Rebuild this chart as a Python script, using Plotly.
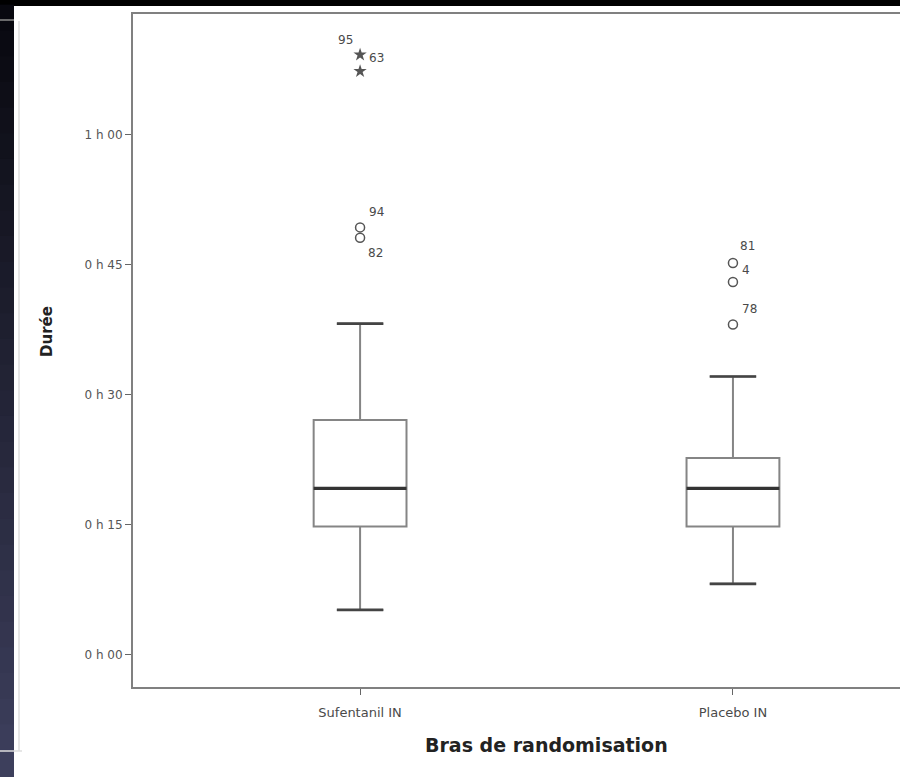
import plotly.graph_objects as go

# ---- data (minutes) ----
groups = ["Sufentanil IN", "Placebo IN"]
q1 = [14.8, 14.8]
median = [19.2, 19.2]
q3 = [27.1, 22.7]
lower_whisker = [5.2, 8.2]
upper_whisker = [38.2, 32.1]

# outliers: circles (mild) and stars (extreme)
circle_group = [0, 0, 1, 1, 1]
circle_values = [49.3, 48.1, 45.2, 43.0, 38.1]
star_group = [0, 0]
star_values = [69.2, 67.3]

# case labels: group, value, text
label_group = [0, 0, 0, 0, 1, 1, 1]
label_values = [69.2, 69.2, 49.3, 48.1, 45.2, 45.2, 38.1]
label_texts = ["95", "63", "94", "82", "81", "4", "78"]
label_dx = [-15, 16, 16, 15, 15, 13, 17]
label_dy = [15, -3, 15, -15, 17, -7, 16]

ytick_vals = [0, 15, 30, 45, 60]
ytick_text = ["0 h 00", "0 h 15", "0 h 30", "0 h 45", "1 h 00"]

BOX_W = 0.249
FONT = "DejaVu Sans, Arial, sans-serif"

fig = go.Figure()
xs = list(range(len(groups)))

fig.add_trace(go.Box(
    x=xs, q1=q1, median=median, q3=q3,
    lowerfence=lower_whisker, upperfence=upper_whisker,
    width=BOX_W, whiskerwidth=0.5,
    fillcolor="white", line=dict(color="#858585", width=2),
    boxpoints=False, hoverinfo="skip", showlegend=False,
))

# darker median line
mx, my = [], []
for i, m in zip(xs, median):
    mx += [i - BOX_W / 2, i + BOX_W / 2, None]
    my += [m, m, None]
fig.add_trace(go.Scatter(x=mx, y=my, mode="lines",
                         line=dict(color="#333333", width=3.2),
                         showlegend=False, hoverinfo="skip"))
# darker whisker caps
cx, cy = [], []
for i, lo, hi in zip(xs, lower_whisker, upper_whisker):
    for v in (lo, hi):
        cx += [i - BOX_W / 4, i + BOX_W / 4, None]
        cy += [v, v, None]
fig.add_trace(go.Scatter(x=cx, y=cy, mode="lines",
                         line=dict(color="#444444", width=2.6),
                         showlegend=False, hoverinfo="skip"))

fig.add_trace(go.Scatter(
    x=circle_group, y=circle_values, mode="markers",
    marker=dict(symbol="circle-open", size=9, color="#555555", line=dict(width=1.5)),
    showlegend=False, hoverinfo="skip"))
fig.add_trace(go.Scatter(
    x=star_group, y=star_values, mode="markers",
    marker=dict(symbol="star", size=10, color="#555555", line=dict(width=0)),
    showlegend=False, hoverinfo="skip"))

for g, v, t, dx, dy in zip(label_group, label_values, label_texts, label_dx, label_dy):
    fig.add_annotation(x=g, y=v, text=t, showarrow=False, xshift=dx, yshift=dy,
                       font=dict(family=FONT, size=12, color="#4a4a4a"))

# axis titles (the x title is centred on the full, partly cropped axis)
fig.add_annotation(xref="paper", yref="paper", x=(546 - 133) / 767, y=(687 - 745) / 673,
                   xanchor="center", yanchor="middle",
                   text="<b>Bras de randomisation</b>", showarrow=False,
                   font=dict(family=FONT, size=19, color="#222222"))
fig.add_annotation(xref="paper", yref="paper", x=(47 - 133) / 767, y=(687 - 332) / 673,
                   xanchor="center", yanchor="middle",
                   text="<b>Durée</b>", showarrow=False, textangle=-90,
                   font=dict(family=FONT, size=15, color="#222222"))

# ---- decorative page background ----
shapes = []
shapes.append(dict(type="rect", xref="paper", yref="paper",
                   x0=-133 / 767, x1=1.0, y0=1 + 8 / 673, y1=1 + 20 / 673,
                   fillcolor="black", line=dict(width=0), layer="below"))
n = 30
top_px, bot_px = 6, 777
c0 = (8, 8, 14)
c1 = (62, 64, 94)
for k in range(n):
    y_top = top_px + (bot_px - top_px) * k / n
    y_bot = top_px + (bot_px - top_px) * (k + 1) / n
    t = (k + 0.5) / n
    col = "rgb(%d,%d,%d)" % tuple(int(a + (b - a) * t) for a, b in zip(c0, c1))
    shapes.append(dict(type="rect", xref="paper", yref="paper",
                       x0=-133 / 767, x1=-119 / 767,
                       y0=(687 - y_bot) / 673, y1=(687 - y_top) / 673 + 0.002,
                       fillcolor=col, line=dict(width=0), layer="below"))
# light frame lines on the left
shapes.append(dict(type="line", xref="paper", yref="paper",
                   x0=-114 / 767, x1=-114 / 767, y0=(687 - 751) / 673, y1=(687 - 21) / 673,
                   line=dict(color="#dedede", width=1.5), layer="below"))
shapes.append(dict(type="line", xref="paper", yref="paper",
                   x0=-133 / 767, x1=-111 / 767, y0=(687 - 751) / 673, y1=(687 - 751) / 673,
                   line=dict(color="#dedede", width=1.5), layer="below"))
shapes.append(dict(type="line", xref="paper", yref="paper",
                   x0=-133 / 767, x1=-119 / 767, y0=(687 - 20) / 673, y1=(687 - 20) / 673,
                   line=dict(color="#8a8a8a", width=1.5), layer="below"))

fig.update_layout(
    width=900, height=777,
    margin=dict(l=133, r=0, t=14, b=90),
    paper_bgcolor="white", plot_bgcolor="white",
    shapes=shapes,
    font=dict(family=FONT, size=10, color="#444444"),
    xaxis=dict(
        range=[-0.609, 1.448], tickvals=xs, ticktext=groups,
        showline=True, linecolor="#808080", linewidth=2, mirror=True,
        ticks="outside", ticklen=6, tickcolor="#666666", tickwidth=1.2,
        ticklabelstandoff=6,
        showgrid=False, zeroline=False,
        tickfont=dict(family=FONT, size=13, color="#4a4a4a"),
    ),
    yaxis=dict(
        range=[-3.69, 73.9], tickvals=ytick_vals, ticktext=ytick_text,
        showline=True, linecolor="#808080", linewidth=2, mirror=False,
        ticks="outside", ticklen=6, tickcolor="#666666", tickwidth=1.2,
        ticklabelstandoff=0,
        showgrid=False, zeroline=False,
        tickfont=dict(family=FONT, size=12, color="#555555"),
    ),
)

fig.write_html("out.html", config={"displayModeBar": False},
               post_script="document.body.style.margin='0px';document.body.style.overflow='hidden';")
